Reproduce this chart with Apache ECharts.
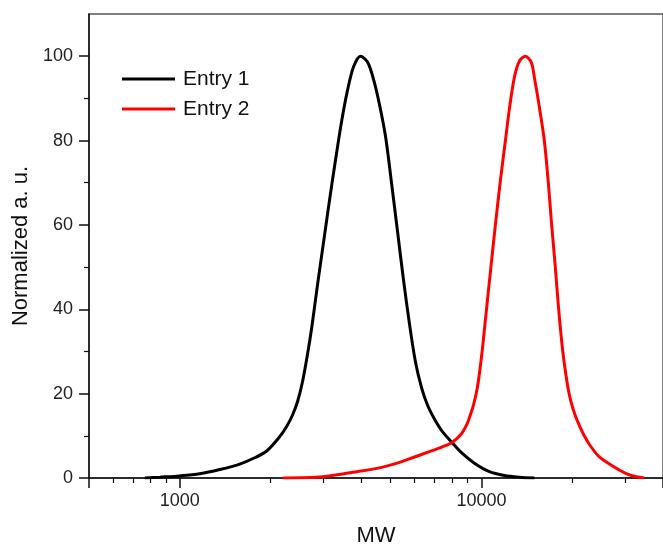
<!DOCTYPE html>
<html>
<head>
<meta charset="utf-8">
<script src="https://cdn.jsdelivr.net/npm/echarts@6/dist/echarts.min.js"></script>
<style>
html,body{margin:0;padding:0;background:#fff;}
#chart{width:663px;height:545px;}
</style>
</head>
<body>
<div id="chart"></div>
<script>
// values
var seriesNames = ['Entry 1', 'Entry 2'];
var entry1MW = [766, 859, 1000, 1165, 1357, 1581, 1771, 1941, 2144, 2261, 2367, 2459, 2555, 2654, 2736, 2864, 2998, 3138, 3285, 3439, 3600, 3768, 3974, 4193, 4389, 4594, 4809, 5034, 5270, 5516, 5775, 6045, 6328, 6624, 6987, 7426, 8017, 8587, 9480, 10630, 11920, 13360, 14980];
var entry1Val = [0, 0.2, 0.5, 1, 2, 3.3, 4.8, 6.4, 9.8, 12.2, 15, 18.2, 23, 29.5, 35.5, 46, 56, 66, 75.5, 84.5, 92, 97.5, 100, 98.6, 94.5, 88.5, 81, 70, 58.5, 47, 36.5, 27.5, 21.5, 17.3, 14, 11, 8.3, 6, 3.5, 1.5, 0.6, 0.2, 0];
var entry2MW = [2193, 2975, 3944, 4594, 5351, 5908, 6574, 7426, 8017, 8587, 8988, 9122, 9408, 9699, 10000, 10310, 10752, 11127, 11559, 12011, 12382, 12863, 13360, 13987, 14641, 14980, 15560, 16165, 16666, 17052, 17580, 17987, 18544, 18973, 19413, 19862, 20475, 21110, 21933, 22789, 24595, 28642, 31382, 34647];
var entry2Val = [0, 0.3, 1.6, 2.4, 3.7, 4.8, 6, 7.4, 8.5, 10.5, 13, 14.3, 17.2, 21.5, 28.5, 37.5, 50, 60, 70.5, 80, 87.5, 95, 98.8, 100, 98.5, 95, 88, 80, 70, 61, 50, 41, 31, 25.5, 21, 17.8, 14.8, 12.5, 10, 8, 5, 1.9, 0.6, 0];
var yMajor = [0, 20, 40, 60, 80, 100];
var yMinor = [10, 30, 50, 70, 90];

function pairs(xs, ys){
	var out = [];
	for(var i=0;i<xs.length;i++){
		out.push([xs[i], ys[i]]);
	}
	return out;
}

var font = 'Liberation Sans';
var myChart = echarts.init(document.getElementById('chart'));

myChart.setOption({
	backgroundColor: '#fff',
	animation: false,
	grid: {left: 89, top: 14, right: 0, bottom: 67, outerBoundsMode: 'none', containLabel: false,
		show: true, borderColor: '#555', borderWidth: 1.5},
	legend: {
		left: 122, top: 68, orient: 'vertical', padding: 0,
		icon: 'rect', itemWidth: 53, itemHeight: 3, itemGap: 8,
		textStyle: {fontFamily: font, fontSize: 21, color: '#111', lineHeight: 22, padding: [0, 0, 0, 3]},
		data: seriesNames
	},
	xAxis: {
		type: 'log', logBase: 10, min: 500, max: 40000,
		name: 'MW', nameLocation: 'middle', nameGap: 47,
		nameTextStyle: {fontFamily: font, fontSize: 22, color: '#111'},
		axisLine: {lineStyle: {color: '#111', width: 1.5}},
		axisTick: {length: 10, lineStyle: {color: '#111', width: 1.5}},
		minorTick: {show: true, splitNumber: 9, length: 5, lineStyle: {color: '#111', width: 1.2}},
		axisLabel: {showMinLabel: false, showMaxLabel: false, margin: 14, fontFamily: font, fontSize: 18, color: '#222',
			formatter: function(v){ return String(v); }},
		splitLine: {show: false}
	},
	yAxis: [{
		type: 'value', min: 0, max: 110,
		name: 'Normalized a. u.', nameLocation: 'middle', nameGap: 54,
		nameTextStyle: {fontFamily: font, fontSize: 22, color: '#111'},
		axisLine: {show: true, lineStyle: {color: '#111', width: 1.5}},
		axisTick: {show: true, length: 10, customValues: yMajor, lineStyle: {color: '#111', width: 1.5}},
		axisLabel: {customValues: yMajor, margin: 16, fontFamily: font, fontSize: 18, color: '#222'},
		splitLine: {show: false}
	}, {
		type: 'value', min: 0, max: 110, position: 'left',
		axisLine: {show: false},
		axisTick: {show: true, length: 5, customValues: yMinor, lineStyle: {color: '#111', width: 1.2}},
		axisLabel: {show: false},
		splitLine: {show: false}
	}],
	series: [{
		name: seriesNames[0], type: 'line', smooth: 0.3, symbol: 'none',
		lineStyle: {color: '#000', width: 3}, itemStyle: {color: '#000'},
		data: pairs(entry1MW, entry1Val)
	}, {
		name: seriesNames[1], type: 'line', smooth: 0.3, symbol: 'none',
		lineStyle: {color: '#ff0000', width: 3}, itemStyle: {color: '#ff0000'},
		data: pairs(entry2MW, entry2Val)
	}]
});
</script>
</body>
</html>
